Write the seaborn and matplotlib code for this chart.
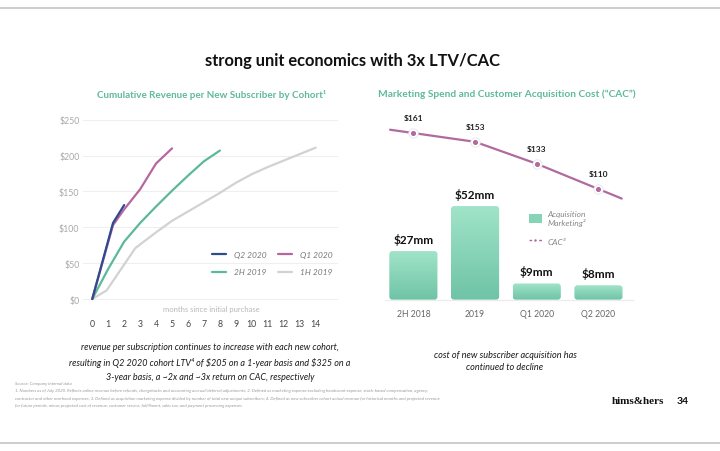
import numpy as np
import pandas as pd
import matplotlib
matplotlib.use("Agg")
import matplotlib.pyplot as plt
import seaborn as sns
from matplotlib.patches import FancyBboxPatch, Patch
from matplotlib.lines import Line2D

# ---------------- data ----------------
cohorts = ["1H 2019", "2H 2019", "Q1 2020", "Q2 2020"]
months_1h19 = [0, 0.9, 2.7, 4, 5, 6, 7, 8, 9, 10, 11, 12, 13, 14]
rev_1h19 = [0, 12, 71, 93, 109, 122, 135, 148, 162, 174, 184, 193, 202, 211]
months_2h19 = [0, 1, 2, 3, 4, 5, 6, 7, 8]
rev_2h19 = [0, 42, 80, 106, 129, 151, 172, 192, 207]
months_q1 = [0, 1.3, 2, 3, 4, 5]
rev_q1 = [0, 103, 125, 153, 189, 210]
months_q2 = [0, 1.3, 2]
rev_q2 = [0, 106, 131]

x_ticks = list(range(15))
y_ticks = [0, 50, 100, 150, 200, 250]

periods = ["2H 2018", "2019", "Q1 2020", "Q2 2020"]
spend_mm = [27, 52, 9, 8]
cac = [161, 153, 133, 110]

# ---------------- style ----------------
sns.set_theme(style="white")
plt.rcParams["font.family"] = ["Lato", "DejaVu Sans"]
plt.rcParams["text.parse_math"] = False

C_TEAL_T = "#5fb99d"
pal = {"Q2 2020": "#2f4b8f", "Q1 2020": "#b8669f",
       "2H 2019": "#5cb89c", "1H 2019": "#d2d2d2"}
C_CAC = "#b06a9f"

fig = plt.figure(figsize=(7.2, 4.52), dpi=100)
W, H = 720, 452

def fx(px):
    return px / W

def fy(py):
    return 1 - py / H

# slide border lines
fig.add_artist(Line2D([0, 1], [fy(9), fy(9)], color="#c9c9c9", lw=1.3))
fig.add_artist(Line2D([0, 1], [fy(444), fy(444)], color="#c9c9c9", lw=1.3))

fig.text(fx(352.5), fy(61), "strong unit economics with 3x LTV/CAC",
         ha="center", va="center", fontsize=11.9, fontweight="bold", color="#111111")

# ---------------- left chart ----------------
axl = fig.add_axes([fx(83), fy(303.6), fx(338 - 83), (303.6 - 117.1) / H])
frames = []
for name, mx, rv in [("1H 2019", months_1h19, rev_1h19), ("2H 2019", months_2h19, rev_2h19),
                     ("Q1 2020", months_q1, rev_q1), ("Q2 2020", months_q2, rev_q2)]:
    frames.append(pd.DataFrame({"month": mx, "revenue": rv, "cohort": name}))
df = pd.concat(frames, ignore_index=True)
sns.lineplot(data=df, x="month", y="revenue", hue="cohort", hue_order=cohorts,
             palette=pal, estimator=None, sort=False, linewidth=1.6,
             legend=False, ax=axl)
axl.set_xlim(-0.58, 15.4)
axl.set_ylim(-5, 255)
axl.set_yticks(y_ticks)
axl.set_yticklabels([f"${v}" for v in y_ticks])
axl.set_xticks(x_ticks)
axl.set_xticklabels([str(v) for v in x_ticks])
axl.grid(axis="y", color="#efefef", lw=0.8)
axl.set_axisbelow(True)
for s in axl.spines.values():
    s.set_visible(False)
axl.tick_params(axis="y", length=0, pad=2.5, labelsize=6.3, labelcolor="#a8a8a8")
axl.tick_params(axis="x", length=0, pad=12, labelsize=6.3, labelcolor="#444444")
axl.set_xlabel("")
axl.set_ylabel("")
fig.text(fx(211.7), fy(310), "months since initial purchase", ha="center", va="center",
         fontsize=5.5, color="#b8b8b8")
fig.text(fx(211.7), fy(94.5), "Cumulative Revenue per New Subscriber by Cohort¹",
         ha="center", va="center", fontsize=7.15, fontweight="bold", color=C_TEAL_T)

leg_order = ["Q2 2020", "2H 2019", "Q1 2020", "1H 2019"]
handles = [Line2D([0], [0], color=pal[c], lw=1.6) for c in leg_order]
fig.legend(handles, leg_order, loc="upper left", bbox_to_anchor=(fx(212), fy(252)),
           ncol=2, frameon=False, borderpad=0, borderaxespad=0, handlelength=1.7,
           handletextpad=0.9, columnspacing=1.4, labelspacing=1.25,
           prop={"size": 6, "style": "italic"}, labelcolor="#777777")

# ---------------- right chart ----------------
axr = fig.add_axes([fx(385), fy(300.7), fx(633 - 385), (300.7 - 110) / H])
dfb = pd.DataFrame({"period": periods, "spend": spend_mm})
sns.barplot(data=dfb, x="period", y="spend", color="#86d4b6", width=0.78,
            saturation=1, ax=axr)
YMAX_B = 105.9
XL = (-0.46, 3.56)
axr.set_xlim(*XL)
axr.set_ylim(0, YMAX_B)

# rounded gradient bars
grad = np.linspace(0, 1, 256).reshape(-1, 1)
cmap = matplotlib.colors.LinearSegmentedColormap.from_list("mint", ["#6fc3a6", "#a0e4c9"])
px_x = 61.7
px_y = 1.8
r_px = 3.0
for p in list(axr.patches):
    x0, y0 = p.get_x(), p.get_y()
    w, h = p.get_width(), p.get_height()
    p.remove()
    fb = FancyBboxPatch((x0, y0), w, h,
                        boxstyle=f"round,pad=0,rounding_size={r_px / px_x}",
                        mutation_aspect=(px_x / px_y), fc="none", ec="none")
    axr.add_patch(fb)
    im = axr.imshow(grad, extent=(x0, x0 + w, y0, y0 + h), origin="lower",
                    cmap=cmap, aspect="auto", zorder=2)
    im.set_clip_path(fb)
axr.set_xlim(*XL)
axr.set_ylim(0, YMAX_B)

for i, v in enumerate(spend_mm):
    axr.annotate(f"${v}mm", (i, v), xytext=(0, 9), textcoords="offset points",
                 ha="center", va="center", fontsize=8.5, fontweight="bold", color="#111111")

for s in ["top", "right", "left"]:
    axr.spines[s].set_visible(False)
axr.spines["bottom"].set_color("#ececec")
axr.spines["bottom"].set_linewidth(0.9)
axr.set_yticks([])
axr.set_xlabel("")
axr.set_ylabel("")
axr.tick_params(axis="x", length=0, pad=7, labelsize=6.2, labelcolor="#666666")

ax2 = axr.twinx()
xs = list(range(len(periods)))
ext = 0.378
x_line = [xs[0] - ext] + xs + [xs[-1] + ext]
y_line = ([cac[0] - (cac[1] - cac[0]) * ext] + cac +
          [cac[-1] + (cac[-1] - cac[-2]) * ext])
sns.lineplot(x=x_line, y=y_line, color=C_CAC, lw=1.6, ax=ax2, estimator=None, sort=False)
ax2.scatter(xs, cac, s=46, color="white", edgecolor="#e6e6e6", lw=0.6, zorder=4)
ax2.scatter(xs, cac, s=7, color=C_CAC, zorder=5)
for i, v in enumerate(cac):
    ax2.annotate(f"${v}", (i, v), xytext=(0, 11), textcoords="offset points",
                 ha="center", va="center", fontsize=6, fontweight="bold", color="#222222")
ax2.set_ylim(9.2, 182.9)
ax2.set_xlim(*XL)
ax2.set_yticks([])
for s in ax2.spines.values():
    s.set_visible(False)

fig.text(fx(507), fy(94.5), "Marketing Spend and Customer Acquisition Cost (“CAC”)",
         ha="center", va="center", fontsize=7.3, fontweight="bold", color=C_TEAL_T)

rh = [Patch(facecolor="#86d4b6", edgecolor="none"),
      Line2D([0], [0], color=C_CAC, lw=1.0, ls=(0, (2, 1.5)), marker="o",
             markersize=3, markerfacecolor=C_CAC, markeredgecolor="white", markeredgewidth=1.2)]
fig.legend(rh, ["Acquisition\nMarketing²", "CAC³"], loc="upper left",
           bbox_to_anchor=(fx(529), fy(211)), frameon=False, borderpad=0, borderaxespad=0,
           handlelength=1.5, handleheight=1.3, handletextpad=0.7, labelspacing=1.2,
           prop={"size": 6, "style": "italic"}, labelcolor="#888888")

# ---------------- captions ----------------
cap_l = ["revenue per subscription continues to increase with each new cohort,",
         "resulting in Q2 2020 cohort LTV⁴ of $205 on a 1-year basis and $325 on a",
         "3-year basis, a ~2x and ~3x return on CAC, respectively"]
for k, t in enumerate(cap_l):
    fig.text(fx(210), fy(348 + 15 * k), t, ha="center", va="center", fontsize=6.45,
             style="italic", color="#1a1a1a")
cap_r = ["cost of new subscriber acquisition has", "continued to decline"]
for k, t in enumerate(cap_r):
    fig.text(fx(505), fy(355 + 13 * k), t, ha="center", va="center", fontsize=6.6,
             style="italic", color="#1a1a1a")

foot = ["Source: Company internal data",
        "1. Numbers as of July 2020. Reflects online revenue before refunds, chargebacks and accounting accrual/deferral adjustments; 2. Defined as marketing expense excluding headcount expense, stock-based compensation, agency,",
        "contractor and other overhead expenses; 3. Defined as acquisition marketing expense divided by number of total new unique subscribers; 4. Defined as new subscriber cohort actual revenue for historical months and projected revenue",
        "for future periods, minus projected cost of revenue, customer service, fulfillment, sales tax, and payment processing expenses"]
for k, (t, yy) in enumerate(zip(foot, [384.5, 391.5, 399, 406.5])):
    fig.text(fx(15), fy(yy), t, ha="left", va="center", fontsize=3.2,
             style="italic", color="#9a9a9a")

fig.text(fx(638), fy(402), "hims&hers", ha="center", va="center", fontsize=8,
         fontweight="bold", family=["Liberation Serif", "DejaVu Serif"], color="#111111")
fig.text(fx(683), fy(402), "34", ha="center", va="center", fontsize=7.5,
         fontweight="bold", color="#111111")

fig.savefig("out.png", dpi=100, facecolor="white")
